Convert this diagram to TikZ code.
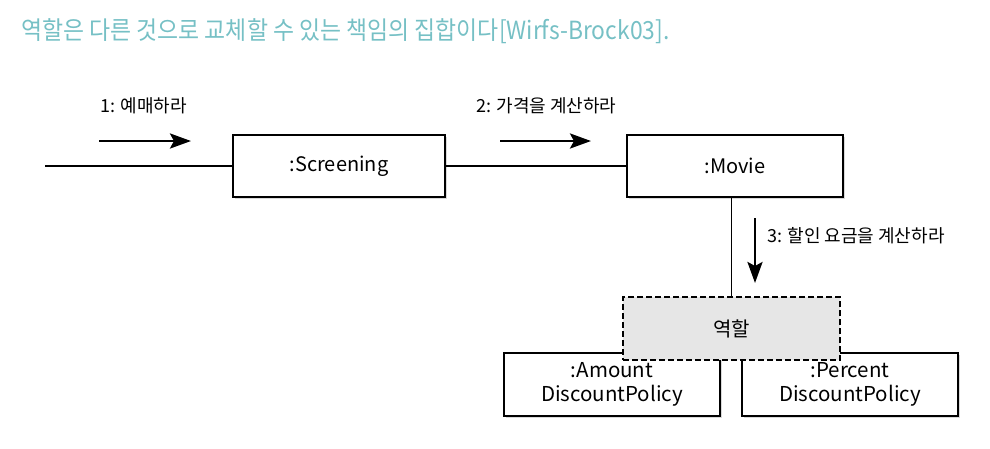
\documentclass[tikz,border=0pt]{standalone}
\usepackage{fontspec}
\setmainfont{Noto Sans CJK KR}
\usetikzlibrary{arrows.meta,shadows}
\definecolor{titlecol}{RGB}{118,192,197}
\definecolor{rolefill}{RGB}{230,230,230}
\begin{document}
\begin{tikzpicture}[x=1pt,y=-1pt,
  obj/.style={draw, line width=1.3pt, fill=white, minimum height=62pt,
    font=\fontsize{20}{24}\selectfont, align=center, inner sep=0pt,
    drop shadow={shadow xshift=1.5pt, shadow yshift=-1.5pt, opacity=0.3}},
  rolebox/.style={draw, line width=1.8pt, dash pattern=on 6pt off 3pt, fill=rolefill,
    minimum width=217pt, minimum height=63pt, inner sep=0pt,
    font=\fontsize{20}{24}\selectfont},
  conn/.style={line width=1.3pt},
  msg/.style={line width=2.8pt, -{Stealth[length=21pt,width=15pt,inset=4pt]}},
  lbl/.style={font=\fontsize{18}{21}\selectfont, inner sep=0pt, anchor=west},
  titletext/.style={font=\fontsize{25}{30}\selectfont, text=titlecol, inner sep=0pt, anchor=west}
]
\useasboundingbox (0,0) rectangle (990,448);
\node[titletext] (title) at (21,31) {\scalebox{0.915}[1]{역할은 다른 것으로 교체할 수 있는 책임의 집합이다[Wirfs-Brock03].}};

\node[obj, minimum width=212pt] (scr) at (339,166) {:Screening};
\node[obj, minimum width=216pt] (mov) at (735,166) {:Movie};
\node[obj, minimum width=216pt, minimum height=63pt, font=\fontsize{20.5}{24}\selectfont] (amt) at (612,384.5) {:Amount\\DiscountPolicy};
\node[obj, minimum width=216pt, minimum height=63pt, font=\fontsize{20.5}{24}\selectfont] (pct) at (850,384.5) {:Percent\\DiscountPolicy};

\coordinate (start) at (45,166);
\draw[conn] (start) -- (scr.west);
\draw[conn] (scr.east) -- (mov.west);

\node[rolebox] (role) at (731.5,328.5) {역할};
\draw[conn] (role.north) -- (role.north |- mov.south);

\coordinate (a1s) at (99,141);
\coordinate (a1e) at (191,141);
\draw[msg] (a1s) -- (a1e);
\node[lbl] (l1) at (100,106) {1: 예매하라};

\coordinate (a2s) at (500,141);
\coordinate (a2e) at (591,141);
\draw[msg] (a2s) -- (a2e);
\node[lbl] (l2) at (476,106) {2: 가격을 계산하라};

\coordinate (a3s) at (755,218);
\coordinate (a3e) at (755,283);
\draw[msg] (a3s) -- (a3e);
\node[lbl] (l3) at (767,236) {3: 할인 요금을 계산하라};
\end{tikzpicture}
\end{document}
